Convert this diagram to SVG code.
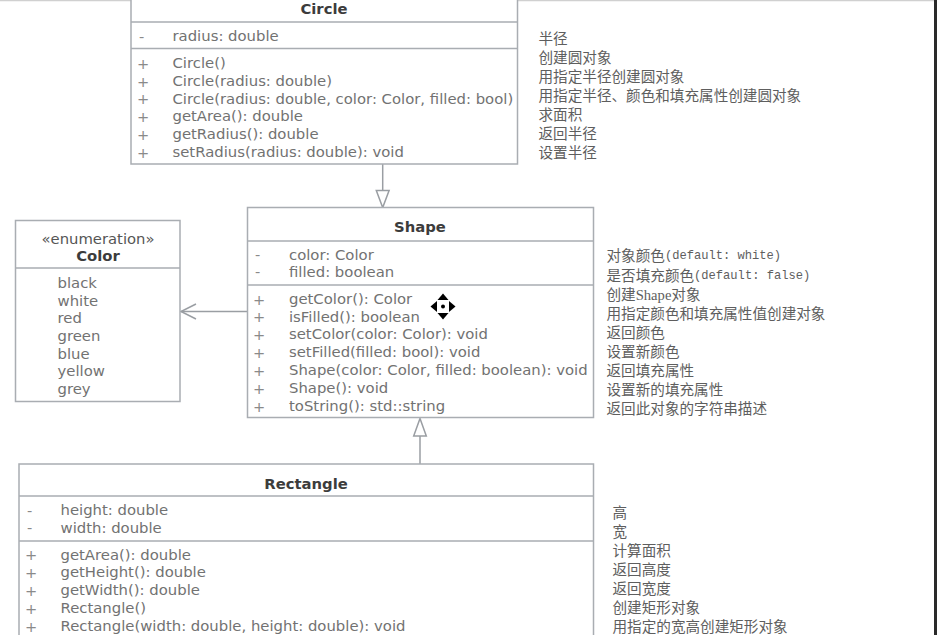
<svg xmlns="http://www.w3.org/2000/svg" width="937" height="635" viewBox="0 0 937 635">
<style>
.box{fill:#fff;stroke:#a9adb2;stroke-width:1.5}
.sep{stroke:#a9adb2;stroke-width:1.5}
.t{font-family:"DejaVu Sans",sans-serif;font-size:14.85px;fill:#727272;dominant-baseline:central}
.sg{font-family:"DejaVu Sans",sans-serif;font-size:14.6px;fill:#8a8a8a;dominant-baseline:central}
.ti{font-family:"DejaVu Sans",sans-serif;font-size:14.8px;font-weight:bold;fill:#3c3c3c;text-anchor:middle;dominant-baseline:central}
.st{font-family:"DejaVu Sans",sans-serif;font-size:14.8px;fill:#555;text-anchor:middle;dominant-baseline:central}
.cn{font-family:"Liberation Serif","Noto Sans CJK SC",serif;font-size:14.6px;fill:#5e5e5e;dominant-baseline:central}
.mono{font-family:"Liberation Mono","Noto Sans CJK SC",monospace;font-size:12.1px}
.ln{stroke:#9a9ea3;stroke-width:1.5;fill:none}
.tri{fill:#fff;stroke:#9a9ea3;stroke-width:1.5}
</style>
<rect x="0" y="0" width="937" height="635" fill="#fff"/>
<line x1="0" y1="0.5" x2="934" y2="0.5" stroke="#d0d0d0" stroke-width="1.5"/>
<rect x="934" y="0" width="3" height="635" fill="#2a2a2a"/>

<g id="connectors">
<line class="ln" x1="382.7" y1="164" x2="382.7" y2="190.5"/>
<polygon class="tri" points="376.3,190.5 389.1,190.5 382.7,207.5"/>
<line class="ln" x1="420" y1="464" x2="420" y2="436"/>
<polygon class="tri" points="413.7,436 426.3,436 420,418.5"/>
<line class="ln" x1="247.5" y1="311.5" x2="181" y2="311.5"/>
<polyline class="ln" points="196,304 181,311.5 196,319"/>
</g>

<g id="Circle">
<rect class="box" x="131" y="-10" width="386.5" height="174"/>
<line class="sep" x1="131" y1="22" x2="517.5" y2="22"/>
<line class="sep" x1="131" y1="48.5" x2="517.5" y2="48.5"/>
<text class="ti" x="324" y="8">Circle</text>
<text class="sg" x="139" y="36">-</text>
<text class="t" x="172.5" y="36">radius: double</text>
<text class="sg" x="137" y="63">+</text><text class="t" x="172.5" y="63">Circle()</text>
<text class="sg" x="137" y="81">+</text><text class="t" x="172.5" y="81">Circle(radius: double)</text>
<text class="sg" x="137" y="98.5">+</text><text class="t" x="172.5" y="98.5">Circle(radius: double, color: Color, filled: bool)</text>
<text class="sg" x="137" y="116">+</text><text class="t" x="172.5" y="116">getArea(): double</text>
<text class="sg" x="137" y="134">+</text><text class="t" x="172.5" y="134">getRadius(): double</text>
<text class="sg" x="137" y="152">+</text><text class="t" x="172.5" y="152">setRadius(radius: double): void</text>
</g>

<g id="Circle-notes">
<text class="cn" x="538.5" y="38.5">半径</text>
<text class="cn" x="538.5" y="58">创建圆对象</text>
<text class="cn" x="538.5" y="77">用指定半径创建圆对象</text>
<text class="cn" x="538.5" y="96">用指定半径、颜色和填充属性创建圆对象</text>
<text class="cn" x="538.5" y="115">求面积</text>
<text class="cn" x="538.5" y="134">返回半径</text>
<text class="cn" x="538.5" y="153">设置半径</text>
</g>

<g id="Shape">
<rect class="box" x="247.5" y="207.5" width="346" height="210"/>
<line class="sep" x1="247.5" y1="241" x2="593.5" y2="241"/>
<line class="sep" x1="247.5" y1="285" x2="593.5" y2="285"/>
<text class="ti" x="420" y="226.5">Shape</text>
<text class="sg" x="255" y="254.5">-</text><text class="t" x="289" y="254.5">color: Color</text>
<text class="sg" x="255" y="271.5">-</text><text class="t" x="289" y="271.5">filled: boolean</text>
<text class="sg" x="253" y="299">+</text><text class="t" x="289" y="299">getColor(): Color</text>
<text class="sg" x="253" y="316.5">+</text><text class="t" x="289" y="316.5">isFilled(): boolean</text>
<text class="sg" x="253" y="334">+</text><text class="t" x="289" y="334">setColor(color: Color): void</text>
<text class="sg" x="253" y="352">+</text><text class="t" x="289" y="352">setFilled(filled: bool): void</text>
<text class="sg" x="253" y="370">+</text><text class="t" x="289" y="370">Shape(color: Color, filled: boolean): void</text>
<text class="sg" x="253" y="388">+</text><text class="t" x="289" y="388">Shape(): void</text>
<text class="sg" x="253" y="406">+</text><text class="t" x="289" y="406">toString(): std::string</text>
</g>

<g id="Shape-notes">
<text class="cn" x="606.5" y="256">对象颜色<tspan class="mono">(default: white)</tspan></text>
<text class="cn" x="606.5" y="275.5">是否填充颜色<tspan class="mono">(default: false)</tspan></text>
<text class="cn" x="606.5" y="294.5">创建Shape对象</text>
<text class="cn" x="606.5" y="314">用指定颜色和填充属性值创建对象</text>
<text class="cn" x="606.5" y="333">返回颜色</text>
<text class="cn" x="606.5" y="352">设置新颜色</text>
<text class="cn" x="606.5" y="371">返回填充属性</text>
<text class="cn" x="606.5" y="390">设置新的填充属性</text>
<text class="cn" x="606.5" y="409">返回此对象的字符串描述</text>
</g>

<g id="Color">
<rect class="box" x="15.5" y="220.5" width="164.5" height="181"/>
<line class="sep" x1="15.5" y1="268" x2="180" y2="268"/>
<text class="st" x="98" y="238.5">«enumeration»</text>
<text class="ti" x="98" y="255.5">Color</text>
<text class="t" x="57.5" y="283">black</text>
<text class="t" x="57.5" y="300.5">white</text>
<text class="t" x="57.5" y="318">red</text>
<text class="t" x="57.5" y="336">green</text>
<text class="t" x="57.5" y="353.5">blue</text>
<text class="t" x="57.5" y="371">yellow</text>
<text class="t" x="57.5" y="389">grey</text>
</g>

<g id="Rectangle">
<rect class="box" x="19" y="464" width="574.5" height="200"/>
<line class="sep" x1="19" y1="496" x2="593.5" y2="496"/>
<line class="sep" x1="19" y1="541" x2="593.5" y2="541"/>
<text class="ti" x="306" y="483">Rectangle</text>
<text class="sg" x="27" y="510">-</text><text class="t" x="60.5" y="510">height: double</text>
<text class="sg" x="27" y="527.5">-</text><text class="t" x="60.5" y="527.5">width: double</text>
<text class="sg" x="25" y="554.5">+</text><text class="t" x="60.5" y="554.5">getArea(): double</text>
<text class="sg" x="25" y="572">+</text><text class="t" x="60.5" y="572">getHeight(): double</text>
<text class="sg" x="25" y="590">+</text><text class="t" x="60.5" y="590">getWidth(): double</text>
<text class="sg" x="25" y="608">+</text><text class="t" x="60.5" y="608">Rectangle()</text>
<text class="sg" x="25" y="626">+</text><text class="t" x="60.5" y="626">Rectangle(width: double, height: double): void</text>
</g>

<g id="Rectangle-notes">
<text class="cn" x="612.5" y="512.5">高</text>
<text class="cn" x="612.5" y="531.5">宽</text>
<text class="cn" x="612.5" y="550.5">计算面积</text>
<text class="cn" x="612.5" y="569.5">返回高度</text>
<text class="cn" x="612.5" y="588.5">返回宽度</text>
<text class="cn" x="612.5" y="607.5">创建矩形对象</text>
<text class="cn" x="612.5" y="626.5">用指定的宽高创建矩形对象</text>
</g>

<g id="move-cursor">
<circle cx="443" cy="306.5" r="6" fill="#fff"/>
<polygon points="443,293.5 437.5,300 448.5,300" fill="#000"/>
<polygon points="443,319.5 437.5,313 448.5,313" fill="#000"/>
<polygon points="430.5,306.5 437,301 437,312" fill="#000"/>
<polygon points="455.5,306.5 449,301 449,312" fill="#000"/>
<circle cx="443" cy="306.5" r="2" fill="#000"/>
</g>
</svg>
